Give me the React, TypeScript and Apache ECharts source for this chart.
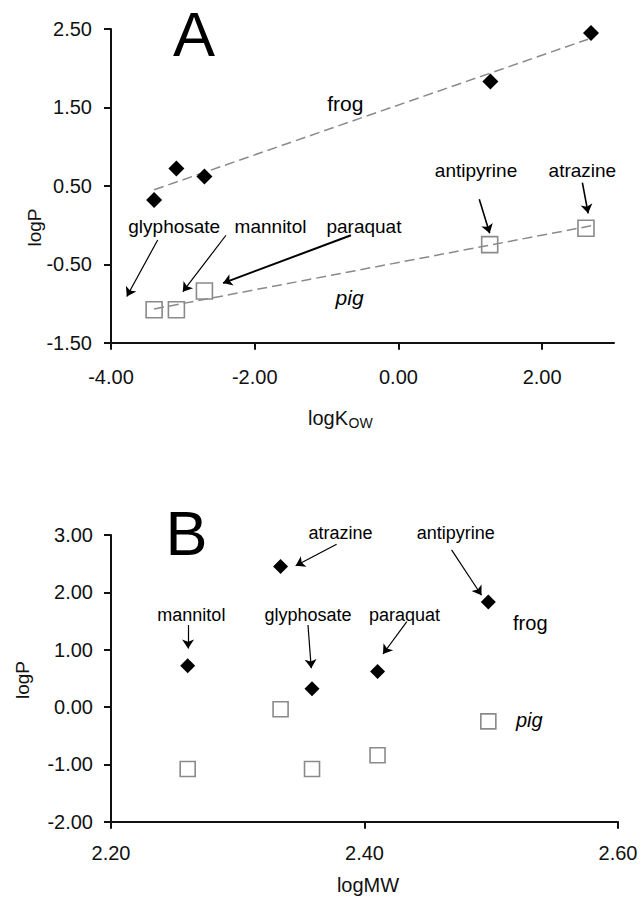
import React, { useEffect, useRef } from "react";
import * as echarts from "echarts";

// ---- data ----
const compounds = ["glyphosate", "mannitol", "paraquat", "antipyrine", "atrazine"];
const frogLogKow = [-3.4, -3.09, -2.7, 1.28, 2.68];
const pigLogKow = [-3.4, -3.09, -2.7, 1.27, 2.61];
const frogLogP = [0.32, 0.72, 0.62, 1.83, 2.45];
const pigLogP = [-1.08, -1.08, -0.84, -0.25, -0.04];
const logMW = [2.3586, 2.2605, 2.4103, 2.4977, 2.3338];

const frogFitX = [-3.4, 2.64];
const frogFitY = [0.45, 2.37];
const pigFitX = [-3.4, 2.68];
const pigFitY = [-1.07, -0.01];

const xTicksA = [-4, -2, 0, 2];
const yTicksA = [-1.5, -0.5, 0.5, 1.5, 2.5];
const xTicksB = [2.2, 2.4, 2.6];
const yTicksB = [-2, -1, 0, 1, 2, 3];

// annotation label anchors (data coords) and arrows [start, end]
const labelNamesA = ["glyphosate", "mannitol", "paraquat", "antipyrine", "atrazine"];
const labelXA = [-3.12, -1.78, -0.48, 1.08, 2.56];
const labelYA = [-0.02, -0.02, -0.02, 0.69, 0.69];
const arrowStartA = [[-3.35, -0.19], [-2.4, -0.13], [-0.66, -0.13], [1.125, 0.33], [2.56, 0.54]];
const arrowEndA = [[-3.78, -0.91], [-3.0, -0.85], [-2.44, -0.74], [1.27, -0.105], [2.64, 0.15]];

const labelNamesB = ["mannitol", "glyphosate", "paraquat", "atrazine", "antipyrine"];
const labelXB = [2.2634, 2.3555, 2.4316, 2.381, 2.472];
const labelYB = [1.605, 1.605, 1.605, 3.04, 3.04];
const arrowStartB = [[2.2608, 1.43], [2.3554, 1.43], [2.4334, 1.49], [2.378, 2.84], [2.4687, 2.74]];
const arrowEndB = [[2.2608, 1.02], [2.358, 0.675], [2.4146, 0.925], [2.3457, 2.465], [2.4923, 1.95]];

const speciesNames = ["frog", "pig"];
const speciesXA = [-0.74, -0.68];
const speciesYA = [1.555, -0.925];
const speciesXB = [2.5308, 2.53];
const speciesYB = [1.46, -0.23];

const FONT = '"Liberation Sans", Arial, sans-serif';

export default function App() {
  const ref = useRef<HTMLDivElement>(null);
  useEffect(() => {
    const chart = echarts.init(ref.current!, null, { renderer: "svg" });
    const fmt = (v: number) => v.toFixed(2);
    const axisLine = { show: true, onZero: false, lineStyle: { color: "#111", width: 2 } };
    const mkAxis = (grid: number, min: number, max: number, ticks: number[], fs: number, margin: number) => ({
      type: "value",
      gridIndex: grid,
      min,
      max,
      axisLine,
      axisTick: { show: true, inside: false, length: 7, customValues: ticks, lineStyle: { color: "#111", width: 2 } },
      axisLabel: { customValues: ticks, formatter: fmt, fontSize: fs, color: "#111", margin, fontFamily: FONT },
      splitLine: { show: false },
    });

    const zip = (a: number[], b: number[]) => a.map((v, i) => [v, b[i]]);
    const fitStyle = { color: "#8a8a8a", width: 1.5, type: [10, 5] as any };
    const labelSeries = (xi: number, names: string[], xs: number[], ys: number[], fs: number, italicName?: string) => ({
      type: "scatter",
      xAxisIndex: xi,
      yAxisIndex: xi,
      symbolSize: 1,
      clip: false,
      silent: true,
      itemStyle: { color: "transparent" },
      label: { show: true, position: "inside", formatter: "{b}", fontSize: fs, color: "#000", opacity: 1, fontFamily: FONT },
      data: names.map((n, i) => ({
        name: n,
        value: [xs[i], ys[i]],
        label: n === italicName ? { fontStyle: "italic" } : undefined,
      })),
      z: 5,
    });
    const arrowSeries = (xi: number, starts: number[][], ends: number[][], widths: number[]) => ({
      type: "lines",
      coordinateSystem: "cartesian2d",
      xAxisIndex: xi,
      yAxisIndex: xi,
      silent: true,
      symbol: ["none", "arrow"],
      symbolSize: 9,
      lineStyle: { color: "#000", width: 1.2, opacity: 1 },
      data: starts.map((s, i) => ({ coords: [s, ends[i]], lineStyle: { width: widths[i] } })),
      z: 4,
    });
    const frogStyle = { color: "#000", opacity: 1 };
    const pigStyle = { color: "rgba(0,0,0,0)", borderColor: "#8a8a8a", borderWidth: 1.6, opacity: 1 };

    const option: any = {
      animation: false,
      backgroundColor: "#fff",
      textStyle: { fontFamily: FONT },
      grid: [
        { left: 111, right: 28, top: 29, height: 313.7 },
        { left: 111, right: 24, top: 535, height: 286.7 },
      ],
      xAxis: [mkAxis(0, -4, 3, xTicksA, 20, 24), mkAxis(1, 2.2, 2.6, xTicksB, 20, 21)],
      yAxis: [mkAxis(0, -1.5, 2.5, yTicksA, 20, 19), mkAxis(1, -2, 3, yTicksB, 20, 18)],
      series: [
        { type: "line", xAxisIndex: 0, yAxisIndex: 0, data: zip(frogFitX, frogFitY), symbol: "none", lineStyle: fitStyle, silent: true, z: 2 },
        { type: "line", xAxisIndex: 0, yAxisIndex: 0, data: zip(pigFitX, pigFitY), symbol: "none", lineStyle: fitStyle, silent: true, z: 2 },
        {
          type: "scatter", xAxisIndex: 0, yAxisIndex: 0, name: "frog",
          data: zip(frogLogKow, frogLogP), symbol: "diamond", symbolSize: 16,
          itemStyle: frogStyle, z: 3,
        },
        {
          type: "scatter", xAxisIndex: 0, yAxisIndex: 0, name: "pig",
          data: zip(pigLogKow, pigLogP), symbol: "rect", symbolSize: 16,
          itemStyle: pigStyle, z: 3,
        },
        labelSeries(0, labelNamesA, labelXA, labelYA, 19),
        labelSeries(0, speciesNames, speciesXA, speciesYA, 21, "pig"),
        arrowSeries(0, arrowStartA, arrowEndA, [1.2, 1.2, 2, 1.6, 1.6]),

        {
          type: "scatter", xAxisIndex: 1, yAxisIndex: 1, name: "frog",
          data: zip(logMW, frogLogP), symbol: "diamond", symbolSize: 15,
          itemStyle: frogStyle, z: 3,
        },
        {
          type: "scatter", xAxisIndex: 1, yAxisIndex: 1, name: "pig",
          data: zip(logMW, pigLogP), symbol: "rect", symbolSize: 15,
          itemStyle: pigStyle, z: 3,
        },
        labelSeries(1, labelNamesB, labelXB, labelYB, 18),
        labelSeries(1, speciesNames, speciesXB, speciesYB, 20, "pig"),
        arrowSeries(1, arrowStartB, arrowEndB, [1.2, 1.2, 1.2, 1.2, 1.2]),
      ],
      graphic: [
        { type: "text", x: 173, y: 34, silent: true, style: { text: "A", fontSize: 63, lineHeight: 63, fontFamily: FONT, fill: "#000", textAlign: "left", textVerticalAlign: "middle" } },
        { type: "text", x: 165.5, y: 533, silent: true, style: { text: "B", fontSize: 63, lineHeight: 63, fontFamily: FONT, fill: "#000", textAlign: "left", textVerticalAlign: "middle" } },
        { type: "text", x: 34, y: 227.5, rotation: Math.PI / 2, silent: true, style: { text: "logP", fontSize: 19, fontFamily: FONT, fill: "#111", textAlign: "center", textVerticalAlign: "middle" } },
        { type: "text", x: 22, y: 680, rotation: Math.PI / 2, silent: true, style: { text: "logP", fontSize: 19, fontFamily: FONT, fill: "#111", textAlign: "center", textVerticalAlign: "middle" } },
        { type: "text", x: 348, y: 417.5, silent: true, style: { text: "logK", fontSize: 20, fontFamily: FONT, fill: "#111", textAlign: "right", textVerticalAlign: "middle" } },
        { type: "text", x: 348.5, y: 423, silent: true, style: { text: "OW", fontSize: 14, fontFamily: FONT, fill: "#111", textAlign: "left", textVerticalAlign: "middle" } },
        { type: "text", x: 368, y: 885, silent: true, style: { text: "logMW", fontSize: 20, fontFamily: FONT, fill: "#111", textAlign: "center", textVerticalAlign: "middle" } },
      ],
    };
    chart.setOption(option);
    return () => chart.dispose();
  }, []);
  return (
    <div
      ref={ref}
      style={{ position: "fixed", left: 0, top: 0, width: 642, height: 898, background: "#fff" }}
    />
  );
}
